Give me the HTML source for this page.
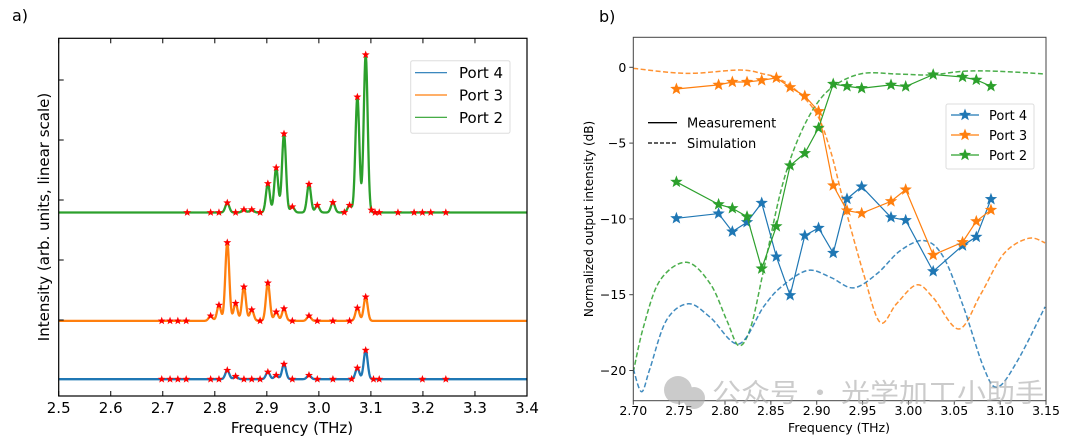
<!DOCTYPE html>
<html><head><meta charset="utf-8"><style>
body{margin:0;background:#fff;}
svg{display:block;font-family:"DejaVu Sans","Liberation Sans","Noto Sans CJK SC",sans-serif;}
</style></head><body>
<svg id="chart" width="1080" height="443" viewBox="0 0 1080 443" xmlns="http://www.w3.org/2000/svg">
<rect width="1080" height="443" fill="#fff"/>
<text x="12" y="21" font-size="16">a)</text>
<text x="599" y="22" font-size="16">b)</text>
<g id="ga"></g>
<g id="gb"></g>
<g opacity="0.6">
  <circle cx="678" cy="390" r="14" fill="#aaa"/>
  <circle cx="694" cy="398" r="11" fill="#aaa"/>
  <text x="712" y="402" font-size="26" fill="#aaa" textLength="332" lengthAdjust="spacingAndGlyphs" font-family="'Noto Sans CJK SC',sans-serif">公众号 · 光学加工小助手</text>
</g>
</svg>
<script>
// ---------- Panel a data ----------
const aTicks = [2.5,2.6,2.7,2.8,2.9,3.0,3.1,3.2,3.3,3.4];
const aBase = {blue:4.7, orange:21, green:51.3};
const greenPeakF = [2.824,2.856,2.871,2.902,2.918,2.933,2.949,2.981,2.997,3.027,3.059,3.074,3.090];
const greenPeakH = [2.7,0.8,0.8,8.1,12.5,22,1.6,7.9,2,2.8,2,32.3,44.1];
const orangePeakF = [2.792,2.808,2.824,2.840,2.856,2.871,2.902,2.918,2.933,2.981,3.074,3.090];
const orangePeakH = [1.4,4.4,21.9,4.9,9.5,3.1,10.6,2.5,3.4,1.4,3.6,6.7];
const bluePeakF = [2.824,2.840,2.902,2.918,2.933,2.981,3.074,3.090];
const bluePeakH = [2.5,0.8,2,1.1,4.2,1.1,3.1,8.1];
const greenStars = [2.747,2.792,2.808,2.824,2.840,2.856,2.871,2.887,2.902,2.918,2.933,2.949,2.981,2.997,3.027,3.049,3.059,3.074,3.090,3.101,3.108,3.116,3.152,3.183,3.199,3.215,3.244];
const orangeStars = [2.698,2.714,2.729,2.745,2.792,2.808,2.824,2.840,2.856,2.871,2.887,2.902,2.918,2.933,2.949,2.981,2.997,3.027,3.059,3.074,3.090];
const blueStars = [2.698,2.714,2.729,2.745,2.792,2.808,2.824,2.840,2.856,2.871,2.887,2.902,2.918,2.933,2.949,2.981,2.997,3.027,3.063,3.074,3.090,3.105,3.116,3.199,3.244];
// ---------- Panel b data ----------
const bTicksX = [2.70,2.75,2.80,2.85,2.90,2.95,3.00,3.05,3.10,3.15];
const bTicksY = [0,-5,-10,-15,-20];
const measF = [2.747,2.793,2.808,2.824,2.840,2.856,2.871,2.887,2.902,2.918,2.933,2.949,2.981,2.997,3.027,3.059,3.074,3.090];
const measBlue = [-9.96,-9.65,-10.84,-10.22,-8.95,-12.49,-15.04,-11.10,-10.60,-12.25,-8.68,-7.87,-9.90,-10.09,-13.46,-11.76,-11.19,-8.70];
const measOrange = [-1.43,-1.16,-0.97,-0.97,-0.86,-0.70,-1.32,-1.89,-2.90,-7.80,-9.45,-9.63,-8.84,-8.07,-12.38,-11.54,-10.16,-9.41];
const measGreen = [-7.56,-9.04,-9.30,-9.85,-13.28,-10.49,-6.48,-5.67,-4.00,-1.10,-1.25,-1.38,-1.16,-1.27,-0.48,-0.64,-0.83,-1.25];
const simOrangeF = [2.70,2.758,2.816,2.842,2.857,2.878,2.900,2.915,2.929,2.951,2.969,2.987,3.009,3.027,3.055,3.079,3.104,3.131,3.149];
const simOrange = [-0.07,-0.40,-0.18,-0.44,-0.70,-1.54,-3.08,-5.5,-8.8,-13.6,-16.82,-15.6,-14.35,-15.2,-17.26,-14.95,-12.3,-11.28,-11.58];
const simGreenF = [2.70,2.711,2.729,2.758,2.784,2.802,2.815,2.828,2.842,2.861,2.879,2.900,2.922,2.951,2.987,3.024,3.060,3.097,3.149];
const simGreen = [-20.1,-17.15,-14.07,-12.86,-14.29,-16.7,-18.36,-17.15,-13.4,-8.13,-4.83,-2.41,-1.10,-0.40,-0.44,-0.50,-0.26,-0.26,-0.44];
const simBlueF = [2.70,2.709,2.718,2.736,2.760,2.784,2.815,2.842,2.861,2.890,2.915,2.940,2.966,2.991,3.017,3.038,3.060,3.082,3.097,3.119,3.149];
const simBlue = [-19.9,-21.4,-19.9,-16.7,-15.6,-16.5,-18.25,-15.8,-14.5,-13.4,-13.85,-14.55,-13.6,-12.1,-11.43,-12.5,-15.8,-19.8,-21.1,-19.35,-15.8];

const NS='http://www.w3.org/2000/svg';
function mk(tag,attrs,parent){const e=document.createElementNS(NS,tag);for(const k in attrs)e.setAttribute(k,attrs[k]);parent.appendChild(e);return e;}
const C={blue:'#1f77b4',orange:'#ff7f0e',green:'#2ca02c'};
function starPts(cx,cy,r){let p=[];for(let i=0;i<10;i++){const a=-Math.PI/2+i*Math.PI/5;const rr=i%2?r*0.42:r;p.push((cx+rr*Math.cos(a)).toFixed(2)+','+(cy+rr*Math.sin(a)).toFixed(2));}return p.join(' ');}

// ---------- Panel a ----------
const ga=document.getElementById('ga');
const aL=58.7,aR=527,aT=38.3,aB=396;
const ax=f=>aL+(f-2.5)/(0.9)*(aR-aL);
const ay=v=>aB-v*(aB-aT)/100;
const sig=0.0038;
function curve(base,F,H,f){let v=base;for(let i=0;i<F.length;i++){const d=(f-F[i])/sig;v+=H[i]*Math.exp(-0.5*d*d);}return v;}
const series=[['blue',bluePeakF,bluePeakH,blueStars],['orange',orangePeakF,orangePeakH,orangeStars],['green',greenPeakF,greenPeakH,greenStars]];
series.forEach(s=>{
  const [name,F,H,S]=s;let d='';
  for(let f=2.5;f<=3.4001;f+=0.0008){d+=(d?'L':'M')+ax(f).toFixed(2)+','+ay(curve(aBase[name],F,H,f)).toFixed(2);}
  const p=mk('path',{d:d,fill:'none',stroke:C[name],'stroke-width':2.3,'stroke-linejoin':'round'},ga);
  
  
  S.forEach(f=>{
    const st=mk('polygon',{points:starPts(ax(f),ay(curve(aBase[name],F,H,f)),4.2),fill:'#ff0000'},ga);
    
    
  });
});
mk('rect',{x:aL,y:aT,width:aR-aL,height:aB-aT,fill:'none',stroke:'#000','stroke-width':1.2},ga);
aTicks.forEach(t=>{
  const x=ax(t);
  mk('line',{x1:x,x2:x,y1:aB,y2:aB-5,stroke:'#000'},ga);
  mk('line',{x1:x,x2:x,y1:aT,y2:aT+5,stroke:'#000'},ga);
  const tx=mk('text',{x:x,y:413,'font-size':15,'text-anchor':'middle'},ga);tx.textContent=t.toFixed(1);
  
  
});
[80,140,200,260,320].forEach(y=>mk('line',{x1:aL,x2:aL+5,y1:y,y2:y,stroke:'#000'},ga));
let t=mk('text',{x:292,y:433,'font-size':15,'text-anchor':'middle'},ga);t.textContent='Frequency (THz)';

t=mk('text',{x:0,y:0,'font-size':15,'text-anchor':'middle',transform:'translate(49,217) rotate(-90)'},ga);t.textContent='Intensity (arb. units, linear scale)';

const lgA=mk('g',{},ga);
mk('rect',{x:410.7,y:60.7,width:99.3,height:72.6,rx:2,fill:'#fff','fill-opacity':0.85,stroke:'#ddd'},lgA);
[['Port 4','blue',72.7],['Port 3','orange',95],['Port 2','green',117.3]].forEach(e=>{
  mk('line',{x1:415,x2:447,y1:e[2],y2:e[2],stroke:C[e[1]],'stroke-width':1.2},lgA);
  const tt=mk('text',{x:459,y:e[2]+5.5,'font-size':15},lgA);tt.textContent=e[0];
  
});

// ---------- Panel b ----------
const gb=document.getElementById('gb');
const bL=633.3,bR=1046,bT=37.3,bB=400.7;
const bx=f=>bL+(f-2.70)/0.45*(bR-bL);
const by=v=>67.3-v*15.16;
mk('clipPath',{id:'cb'},gb).appendChild(document.createElementNS(NS,'rect'));
const cr=gb.querySelector('#cb rect');cr.setAttribute('x',bL);cr.setAttribute('y',bT);cr.setAttribute('width',bR-bL);cr.setAttribute('height',bB-bT);
function smooth(F,V){const P=F.map((f,i)=>[bx(f),by(V[i])]);let d='M'+P[0][0]+','+P[0][1];
  for(let i=0;i<P.length-1;i++){const p0=P[Math.max(0,i-1)],p1=P[i],p2=P[i+1],p3=P[Math.min(P.length-1,i+2)];
    d+='C'+(p1[0]+(p2[0]-p0[0])/6).toFixed(2)+','+(p1[1]+(p2[1]-p0[1])/6).toFixed(2)+' '+(p2[0]-(p3[0]-p1[0])/6).toFixed(2)+','+(p2[1]-(p3[1]-p1[1])/6).toFixed(2)+' '+p2[0].toFixed(2)+','+p2[1].toFixed(2);}
  return d;}
[['orange',simOrangeF,simOrange],['green',simGreenF,simGreen],['blue',simBlueF,simBlue]].forEach(s=>{
  const p=mk('path',{d:smooth(s[1],s[2]),fill:'none',stroke:C[s[0]],'stroke-width':1.5,'stroke-dasharray':'5,2.5','stroke-opacity':0.85,'clip-path':'url(#cb)'},gb);
  
  
});
[['blue',measBlue],['orange',measOrange],['green',measGreen]].forEach(s=>{
  const d=measF.map((f,i)=>(i?'L':'M')+bx(f).toFixed(2)+','+by(s[1][i]).toFixed(2)).join('');
  const p=mk('path',{d:d,fill:'none',stroke:C[s[0]],'stroke-width':1.2},gb);
  
  
  measF.forEach((f,i)=>{
    const st=mk('polygon',{points:starPts(bx(f),by(s[1][i]),6.5),fill:C[s[0]]},gb);
    
    
  });
});
mk('rect',{x:bL,y:bT,width:bR-bL,height:bB-bT,fill:'none',stroke:'#444','stroke-width':1},gb);
bTicksX.forEach(v=>{const x=bx(v);mk('line',{x1:x,x2:x,y1:bB,y2:bB+4,stroke:'#444'},gb);
  const tx=mk('text',{x:x,y:415,'font-size':12.5,'text-anchor':'middle'},gb);tx.textContent=v.toFixed(2);
  });
bTicksY.forEach(v=>{const y=by(v);mk('line',{x1:bL-4,x2:bL,y1:y,y2:y,stroke:'#444'},gb);
  const tx=mk('text',{x:bL-7,y:y+4.5,'font-size':12.5,'text-anchor':'end'},gb);tx.textContent=v<0?'\u2212'+(-v):String(v);
  });
t=mk('text',{x:839,y:432,'font-size':12.5,'text-anchor':'middle'},gb);t.textContent='Frequency (THz)';

t=mk('text',{x:0,y:0,'font-size':12,'text-anchor':'middle',transform:'translate(593,219) rotate(-90)'},gb);t.textContent='Normalized output intensity (dB)';

const lgS=mk('g',{},gb);
mk('line',{x1:648,x2:677,y1:122.7,y2:122.7,stroke:'#000','stroke-width':1.3},lgS);
mk('line',{x1:648,x2:677,y1:143,y2:143,stroke:'#000','stroke-width':1.3,'stroke-dasharray':'4,2'},lgS);
t=mk('text',{x:687,y:127.5,'font-size':13},lgS);t.textContent='Measurement';
t=mk('text',{x:687,y:147.8,'font-size':13},lgS);t.textContent='Simulation';
const lgB=mk('g',{},gb);
mk('rect',{x:946,y:104,width:88,height:65,rx:2,fill:'#fff','fill-opacity':0.85,stroke:'#ddd'},lgB);
[['Port 4','blue',115],['Port 3','orange',135],['Port 2','green',155]].forEach(e=>{
  mk('line',{x1:951,x2:979,y1:e[2],y2:e[2],stroke:C[e[1]],'stroke-width':1.2},lgB);
  mk('polygon',{points:starPts(965,e[2],6.5),fill:C[e[1]]},lgB);
  const tt=mk('text',{x:989,y:e[2]+5,'font-size':13},lgB);tt.textContent=e[0];
  
});
</script>
</body></html>
